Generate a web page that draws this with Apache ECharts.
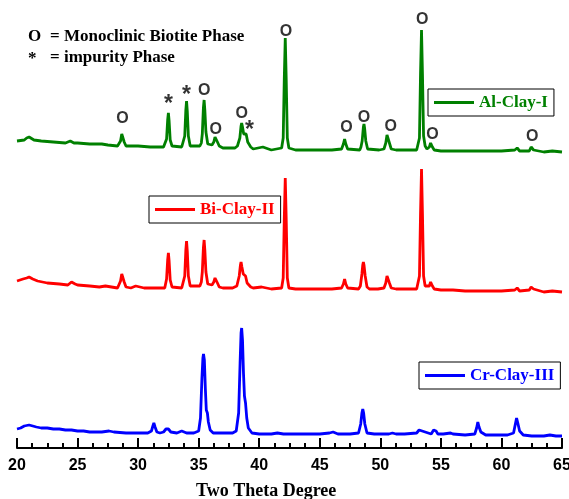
<!DOCTYPE html>
<html>
<head>
<meta charset="utf-8">
<script src="https://cdn.jsdelivr.net/npm/echarts@6/dist/echarts.min.js"></script>
<style>
  html, body { margin: 0; padding: 0; background: #fff; }
  #main { width: 569px; height: 499px; }
</style>
</head>
<body>
<div id="main"></div>
<script>
// XRD patterns: [2theta, intensity above own baseline]
const crClay = [
  [20, 19], [20.3, 20], [20.6, 22], [21, 23], [21.3, 22], [21.6, 21], [22, 20], [22.5, 20],
  [23, 19], [23.5, 19], [24, 18], [24.5, 18], [25, 17], [25.5, 17], [26, 16], [27, 16],
  [27.6, 17], [28, 16], [29, 15], [30, 15], [30.8, 15], [31.1, 17], [31.22, 22], [31.3, 25],
  [31.4, 21], [31.55, 16], [31.8, 15], [32.1, 16], [32.3, 19], [32.4, 21], [32.5, 19],
  [32.7, 16], [33.2, 15], [33.6, 17], [34, 15], [34.6, 15], [35, 17], [35.15, 30],
  [35.27, 70], [35.35, 90], [35.4, 94], [35.47, 88], [35.55, 60], [35.63, 38], [35.72, 35],
  [35.8, 26], [35.95, 18], [36.2, 15], [37, 15], [37.8, 15], [38.1, 17], [38.3, 35],
  [38.42, 85], [38.5, 115], [38.55, 120], [38.62, 108], [38.7, 75], [38.78, 52], [38.87, 45],
  [38.97, 30], [39.1, 20], [39.4, 15], [40, 14], [41, 14], [41.5, 15], [42, 14], [43, 14],
  [44, 14], [45, 14], [45.8, 15], [46.1, 16], [46.5, 14], [47.5, 14], [48.2, 15],
  [48.38, 24], [48.48, 35], [48.55, 39], [48.62, 35], [48.72, 24], [48.9, 15], [49.5, 14],
  [50, 14], [50.7, 14], [51, 15], [51.3, 14], [52, 14], [53, 15], [53.2, 18], [53.3, 19],
  [53.45, 17], [53.6, 15], [54.2, 14], [54.4, 18], [54.5, 20], [54.6, 17], [54.75, 14],
  [55.2, 14], [55.8, 15], [56, 14], [57, 13], [57.8, 14], [57.95, 20], [58.05, 26],
  [58.15, 21], [58.3, 16], [58.7, 13], [59.5, 13], [60.5, 13], [61, 15], [61.15, 24],
  [61.25, 30], [61.35, 25], [61.5, 17], [61.8, 13], [62.5, 12], [63.5, 12], [64, 13],
  [64.5, 12], [65, 12]
];
const biClay = [
  [20, 17], [20.5, 19], [20.8, 20], [21, 21], [21.3, 19], [21.7, 17], [22.5, 15], [23.5, 14],
  [24.2, 13], [24.5, 16], [24.8, 14], [25, 13], [26, 12], [26.8, 11], [27.3, 12], [28.3, 10],
  [28.55, 17], [28.65, 24], [28.7, 26], [28.75, 23], [28.85, 16], [29.0, 11], [29.4, 10],
  [29.8, 12], [30.5, 10], [31.5, 10], [32.2, 10], [32.35, 19], [32.44, 38], [32.5, 45],
  [32.56, 37], [32.65, 18], [32.8, 11], [33.6, 10], [33.72, 12], [33.85, 22], [33.94, 48],
  [34, 57], [34.06, 47], [34.15, 22], [34.3, 12], [35.1, 12], [35.22, 16], [35.3, 26],
  [35.39, 50], [35.45, 58], [35.51, 48], [35.6, 26], [35.75, 14], [36.1, 13], [36.25, 16],
  [36.35, 20], [36.4, 21], [36.45, 20], [36.55, 15], [36.7, 11], [37, 10], [37.8, 10],
  [38.15, 12], [38.35, 22], [38.45, 33], [38.5, 36], [38.57, 31], [38.68, 24], [38.8, 23],
  [38.87, 22], [39, 15], [39.3, 11], [39.5, 10], [40.2, 11], [41, 9], [41.85, 10],
  [41.98, 20], [42.07, 80], [42.15, 120], [42.23, 78], [42.32, 20], [42.45, 10], [43, 9],
  [44, 9], [45, 9], [46, 9], [46.8, 10], [46.95, 14], [47.05, 19], [47.15, 14], [47.3, 10],
  [48.2, 9], [48.35, 12], [48.48, 24], [48.55, 33], [48.6, 36], [48.65, 33], [48.75, 22],
  [48.9, 11], [49.1, 9], [49.8, 9], [50.3, 10], [50.45, 15], [50.55, 22], [50.6, 24],
  [50.65, 22], [50.75, 15], [50.9, 10], [51.3, 9], [52, 9], [53, 9], [53.1, 10],
  [53.23, 22], [53.32, 85], [53.4, 129], [53.48, 83], [53.57, 22], [53.7, 12], [53.85, 10],
  [54.05, 12], [54.15, 16], [54.2, 16], [54.3, 12], [54.45, 9], [55, 8], [56, 8], [57, 7],
  [58, 7], [59, 7], [60, 7], [61.1, 8], [61.3, 10], [61.5, 7], [62.3, 8], [62.45, 11],
  [62.55, 12], [62.65, 9], [62.8, 7], [63.5, 6], [64.2, 7], [65, 6]
];
const alClay = [
  [20, 17], [20.6, 18], [20.8, 20], [21, 21], [21.4, 18], [22, 17], [23, 16], [24, 15],
  [24.4, 17], [24.7, 15], [25, 15], [26, 14], [27, 14], [27.5, 13], [28.3, 12], [28.55, 17],
  [28.65, 24], [28.7, 26], [28.75, 23], [28.85, 16], [29.0, 12], [30, 12], [31, 11],
  [32.1, 11], [32.2, 12], [32.35, 19], [32.44, 38], [32.5, 45], [32.56, 37], [32.65, 18],
  [32.8, 12], [33.6, 11], [33.72, 12], [33.85, 22], [33.94, 48], [34, 57], [34.06, 47],
  [34.15, 22], [34.3, 12], [35.1, 12], [35.22, 15], [35.3, 24], [35.39, 50], [35.45, 58],
  [35.51, 48], [35.6, 26], [35.75, 14], [36.1, 13], [36.25, 16], [36.35, 21], [36.4, 22],
  [36.45, 21], [36.55, 16], [36.7, 12], [37, 10], [38, 10], [38.2, 12], [38.4, 20],
  [38.5, 32], [38.55, 35], [38.62, 31], [38.72, 24], [38.85, 25], [38.92, 24], [39.05, 16],
  [39.3, 11], [39.5, 9], [40.3, 11], [41, 8], [41.85, 10], [41.98, 20], [42.07, 80],
  [42.15, 120], [42.23, 78], [42.32, 20], [42.45, 10], [43, 8], [44, 8], [45, 8], [46, 8],
  [46.8, 9], [46.95, 14], [47.05, 19], [47.15, 14], [47.3, 9], [48.3, 8], [48.4, 11],
  [48.5, 17], [48.6, 31], [48.65, 34], [48.7, 30], [48.8, 17], [48.95, 9], [49.9, 8],
  [50.3, 9], [50.45, 15], [50.55, 23], [50.6, 25], [50.65, 23], [50.75, 15], [50.9, 9],
  [51.3, 8], [52, 8], [53, 8], [53.1, 9], [53.23, 20], [53.32, 85], [53.4, 128],
  [53.48, 83], [53.57, 22], [53.7, 12], [53.85, 9], [54.05, 11], [54.15, 15], [54.2, 15],
  [54.3, 11], [54.45, 8], [55, 7], [56, 7], [57, 7], [58, 7], [59, 7], [60, 7], [61.1, 8],
  [61.3, 10], [61.5, 7], [62.3, 7], [62.45, 11], [62.55, 12], [62.65, 8], [62.8, 7],
  [63.5, 6], [64.2, 7], [65, 6]
];

// vertical stacking offsets (same units as intensity)
const offsets = { al: 290, bi: 150, cr: 0 };

// phase markers on the Al-Clay-I pattern: [2theta, height, symbol]
const phaseMarks = [
  [28.7, 329, 'O'], [32.5, 348, '*'], [34.0, 357, '*'], [35.45, 357, 'O'],
  [36.4, 318, 'O'], [38.55, 334, 'O'], [39.2, 322, '*'], [42.2, 416, 'O'],
  [47.2, 320, 'O'], [48.65, 330, 'O'], [50.85, 321, 'O'], [53.45, 428, 'O'],
  [54.3, 313, 'O'], [62.55, 311, 'O']
];

const xTicks = { min: 20, max: 65, step: 5 };

function shift(arr, off) {
  return arr.map(p => [p[0], p[1] + off]);
}

const chart = echarts.init(document.getElementById('main'), null, { renderer: 'canvas' });

const legendBase = {
  orient: 'horizontal',
  icon: 'rect',
  itemWidth: 40,
  itemHeight: 3,
  borderColor: '#000',
  borderWidth: 1,
  padding: [5, 6, 5, 6],
  selectedMode: false
};
const legendFont = { fontFamily: 'Liberation Serif', fontWeight: 'bold', fontSize: 17 };

const option = {
  animation: false,
  backgroundColor: '#fff',
  grid: { left: 17, right: 7, top: 0, bottom: 51, outerBoundsMode: 'none', containLabel: false },
  legend: [
    Object.assign({}, legendBase, {
      data: ['Al-Clay-I'], left: 428, top: 89,
      textStyle: Object.assign({ color: '#008000' }, legendFont)
    }),
    Object.assign({}, legendBase, {
      data: ['Bi-Clay-II'], left: 149, top: 196,
      textStyle: Object.assign({ color: '#ff0000' }, legendFont)
    }),
    Object.assign({}, legendBase, {
      data: ['Cr-Clay-III'], left: 419, top: 362,
      textStyle: Object.assign({ color: '#0000ff' }, legendFont)
    })
  ],
  xAxis: {
    type: 'value',
    min: xTicks.min,
    max: xTicks.max,
    interval: xTicks.step,
    axisLine: { onZero: false, lineStyle: { color: '#000', width: 2 } },
    axisTick: { inside: true, length: 10, lineStyle: { width: 2 } },
    minorTick: { show: true, splitNumber: 4, length: 5, lineStyle: { color: '#000', width: 2 } },
    splitLine: { show: false },
    axisLabel: {
      color: '#000', fontFamily: 'Liberation Sans', fontWeight: 'bold', fontSize: 16, margin: 10
    }
  },
  yAxis: {
    type: 'value', min: 0, max: 448, show: false, splitLine: { show: false }
  },
  graphic: [
    { type: 'text', left: 28, top: 28, style: { text: 'O', font: 'bold 17px "Liberation Serif"', fill: '#000' } },
    { type: 'text', left: 50, top: 28, style: { text: '= Monoclinic Biotite Phase', font: 'bold 17px "Liberation Serif"', fill: '#000' } },
    { type: 'text', left: 28, top: 50, style: { text: '*', font: 'bold 17px "Liberation Serif"', fill: '#000' } },
    { type: 'text', left: 50, top: 49, style: { text: '= impurity Phase', font: 'bold 17px "Liberation Serif"', fill: '#000' } },
    { type: 'text', left: 196, top: 482, style: { text: 'Two Theta Degree', font: 'bold 18px "Liberation Serif"', fill: '#000' } }
  ],
  series: [
    {
      name: 'Al-Clay-I', type: 'line', symbol: 'none', color: '#008000',
      lineStyle: { width: 2.8 }, data: shift(alClay, offsets.al)
    },
    {
      name: 'Bi-Clay-II', type: 'line', symbol: 'none', color: '#ff0000',
      lineStyle: { width: 2.8 }, data: shift(biClay, offsets.bi)
    },
    {
      name: 'Cr-Clay-III', type: 'line', symbol: 'none', color: '#0000ff',
      lineStyle: { width: 2.8 }, data: shift(crClay, offsets.cr)
    },
    {
      name: 'marks', type: 'scatter', symbolSize: 0, z: 5,
      itemStyle: { color: 'transparent' },
      data: phaseMarks.map(m => ({
        value: m,
        label: m[2] === '*'
          ? { fontSize: 23, offset: [0, 5] }
          : { fontSize: 16 }
      })),
      label: {
        show: true, position: 'inside', color: '#000',
        fontFamily: 'Liberation Sans', fontWeight: 'bold',
        formatter: p => p.value[2]
      }
    }
  ]
};

chart.setOption(option);
</script>
</body>
</html>
